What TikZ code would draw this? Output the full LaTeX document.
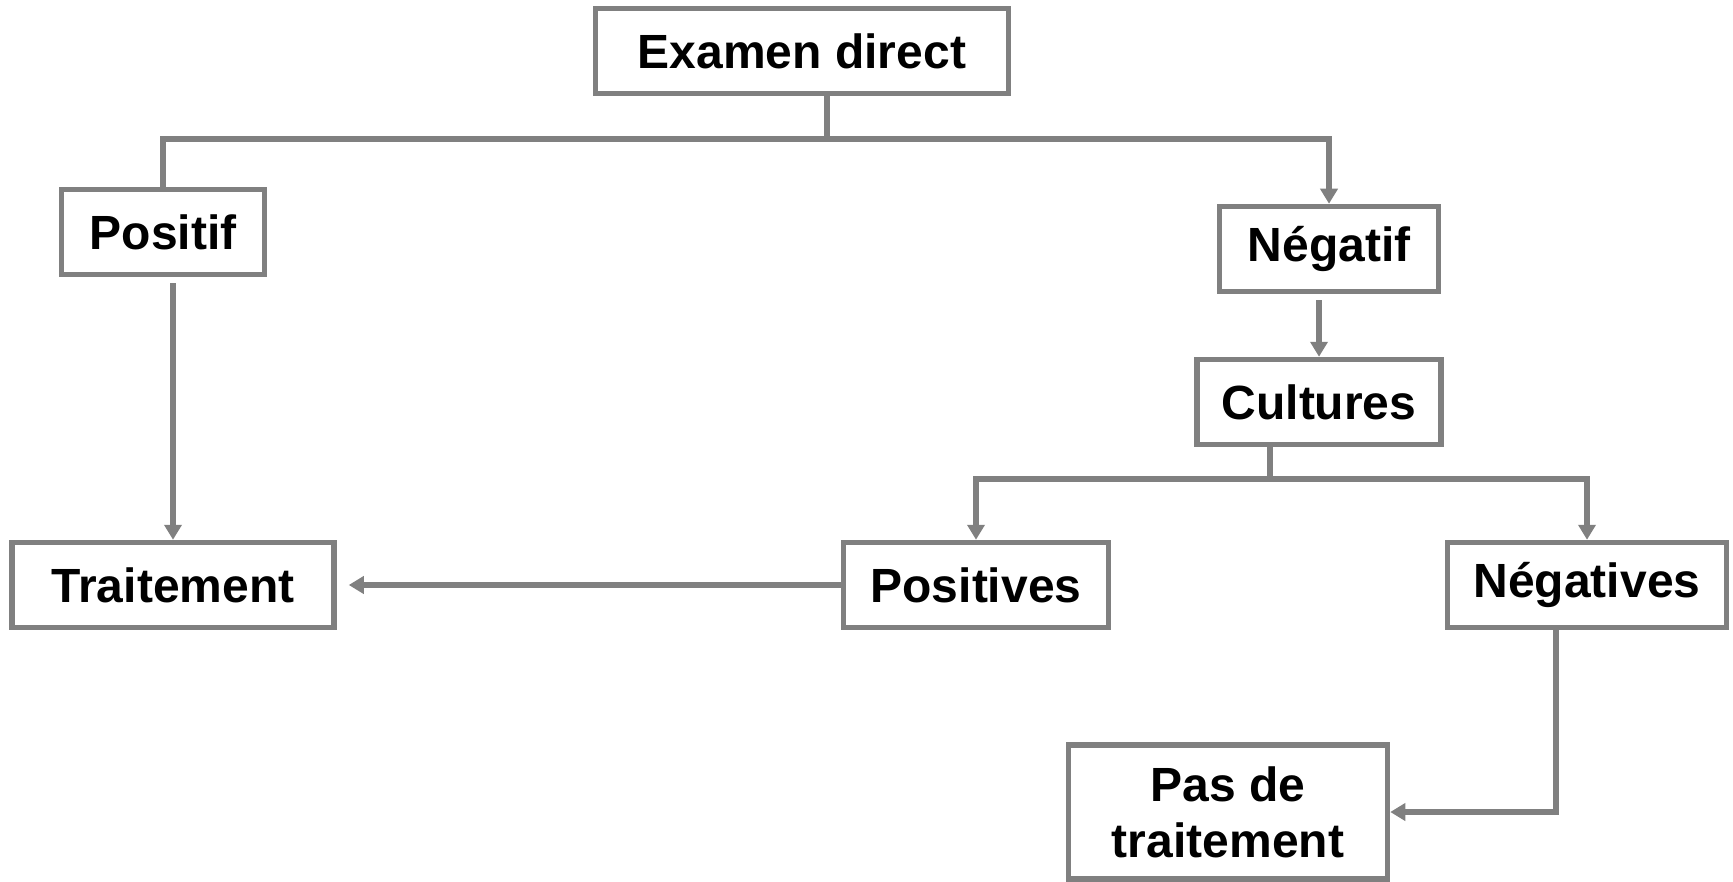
\documentclass[tikz,border=0pt]{standalone}
\usepackage{fontspec}
\setmainfont{Liberation Sans}
\usetikzlibrary{arrows.meta,positioning,calc}
\definecolor{linegray}{RGB}{128,128,128}

\begin{document}
\begin{tikzpicture}[x=0.5pt,y=-0.5pt,>={Triangle[length=7.5pt,width=8.5pt]},
  box/.style={draw=linegray,line width=2.75pt,fill=white,align=center,inner sep=0pt,
    minimum height=42.5pt,font=\fontsize{24}{28}\selectfont\bfseries},
  link/.style={draw=linegray,line width=2.75pt}]
\useasboundingbox (0,0) rectangle (1733,882);
\node (exam) [box,minimum width=206.5pt] at (802,51) {Examen direct};
\node (pos) [box,minimum width=101.5pt] at (163,232) {Positif};
\node (neg) [box,minimum width=109.5pt] at (1329,249) {Négatif};
\node (trait) [box,minimum width=161pt] at (173,585) {Traitement};
\node (cult) [box,minimum width=122pt] at (1319,402) {Cultures};
\node (posv) [box,minimum width=132.5pt] at (976,585) {Positives};
\node (negv) [box,minimum width=139.5pt] at (1587,585) {Négatives};
\node (pas) [box,minimum width=159.5pt,minimum height=67pt] at (1228,812) {Pas de\\traitement};
\coordinate (fork1) at (827,139);
\coordinate (fork2) at (1270,479);
\draw[link] ([xshift=12.5pt]exam.south) -- (fork1);
\draw[link] (fork1) -| (pos.north);
\draw[link,->] (fork1) -| (neg.north);
\draw[link,->] ([yshift=-3pt]pos.south -| trait.north) -- (trait.north);
\draw[link,->] ([yshift=-3pt]neg.south -| cult.north) -- (cult.north);
\draw[link] ([xshift=-24.5pt]cult.south) -- (fork2);
\draw[link,->] (fork2) -| (posv.north);
\draw[link,->] (fork2) -| (negv.north);
\draw[link,->] (posv.west) -- ([xshift=6pt]trait.east);
\draw[link,->] ([xshift=-15.5pt]negv.south) |- (pas.east);
\end{tikzpicture}
\end{document}
